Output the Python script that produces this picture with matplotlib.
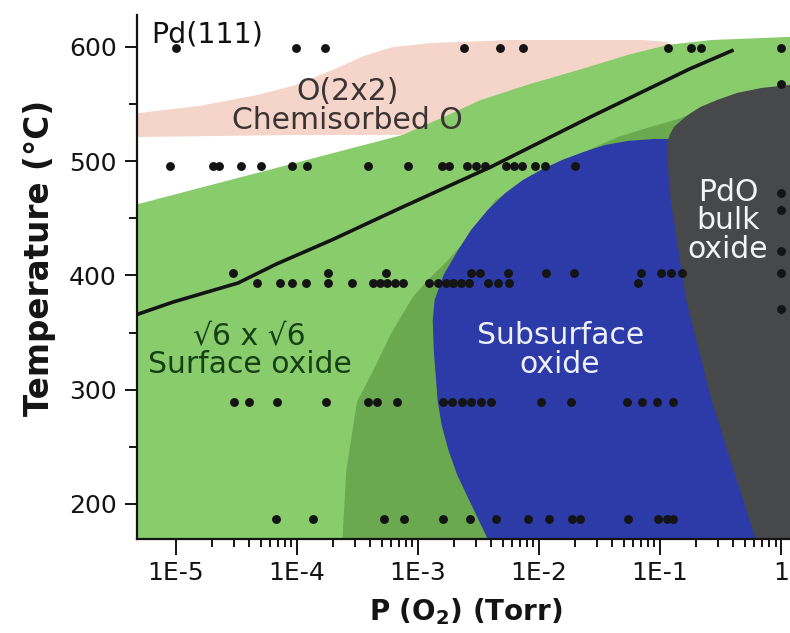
import numpy as np
import matplotlib
matplotlib.use("Agg")
import matplotlib.pyplot as plt
from matplotlib.ticker import FixedLocator, FixedFormatter, NullFormatter

# ---------------------------------------------------------------------------
# Measurement conditions: O2 pressure (Torr) for each temperature row (deg C)
# ---------------------------------------------------------------------------
t_row_600 = 599
p_row_600 = [1.0e-5, 9.8e-5, 1.71e-4, 2.42e-3, 4.8e-3, 7.33e-3, 0.117, 0.182, 0.219, 1.0]

t_row_496 = 496
p_row_496 = [9.0e-6, 2.02e-5, 2.26e-5, 3.44e-5, 5.02e-5, 9.1e-5, 1.22e-4, 3.87e-4,
             8.24e-4, 1.57e-3, 1.82e-3, 2.55e-3, 3.01e-3, 3.56e-3, 5.37e-3, 6.24e-3,
             7.18e-3, 9.23e-3, 1.12e-2, 2.00e-2]

t_row_402 = 402
p_row_402 = [2.94e-5, 1.80e-4, 5.44e-4, 2.74e-3, 3.24e-3, 5.52e-3, 1.15e-2, 1.96e-2,
             6.98e-2, 0.101, 0.124, 0.151, 1.0]

t_row_393 = 393
p_row_393 = [4.63e-5, 7.24e-5, 9.12e-5, 1.18e-4, 1.81e-4, 2.86e-4, 4.21e-4, 4.88e-4,
             5.55e-4, 6.43e-4, 7.59e-4, 1.23e-3, 1.45e-3, 1.69e-3, 1.96e-3, 2.28e-3,
             2.64e-3, 3.77e-3, 4.58e-3, 5.62e-3, 6.61e-2]

t_row_289 = 289
p_row_289 = [3.03e-5, 4.05e-5, 6.89e-5, 1.73e-4, 3.84e-4, 4.61e-4, 6.67e-4, 1.60e-3,
             1.92e-3, 2.32e-3, 2.74e-3, 3.30e-3, 3.98e-3, 1.03e-2, 1.85e-2, 5.38e-2,
             7.11e-2, 9.40e-2, 0.128]

t_row_187 = 187
p_row_187 = [6.71e-5, 1.35e-4, 5.22e-4, 7.69e-4, 1.62e-3, 2.70e-3, 4.38e-3, 8.15e-3,
             1.22e-2, 1.86e-2, 2.20e-2, 5.46e-2, 9.7e-2, 0.115, 0.128]

# extra runs at 1 Torr
p_one_torr = 1.0
t_one_torr = [568, 472, 457, 421, 371]

# ---------------------------------------------------------------------------
# Phase boundaries: log10(P / Torr) and temperature (deg C)
# ---------------------------------------------------------------------------
chem_log_p = [-5.5, -5.309, -4.806, -4.327, -4.010, -3.688, -3.448, -3.208, -2.886,
              -2.238, -1.133, -0.939,
              -0.939, -3.128, -4.010, -5.309, -5.5]
chem_t = [539.4, 542.2, 548.4, 558.0, 566.7, 580.7, 592.1, 600.0, 603.5,
          606.1, 606.1, 604.4,
          588.6, 523.0, 523.0, 521.2, 521.0]

surface_log_p = [-5.5, -5.309, -3.128, -2.805, -2.481, -2.075, -1.672, -1.268, -0.939,
                 -0.575, 0.064, 0.3, 0.3, -5.5]
surface_t = [457.3, 462.6, 523.0, 537.9, 553.6, 567.6, 579.9, 593.0, 601.8,
             606.1, 608.8, 609.5, 140, 140]

metastable_log_p = [-3.63, -3.624, -3.592, -3.504, -3.368, -3.224, -3.048, -2.919,
                    -2.765, -2.603, -2.359, -1.994, -1.672, -1.591, -1.349, -1.107,
                    -0.848, -0.575, -0.210, 0.3, 0.3]
metastable_t = [140, 169.3, 229.7, 289.3, 317.3, 348.8, 380.3, 396.1, 411.8, 431.1,
                466.1, 490.6, 504.6, 509.8, 521.2, 529.1, 537.0, 549.2, 561.5, 569.0, 140]

subsurface_log_p = [-2.38, -2.424, -2.578, -2.676, -2.749, -2.805, -2.838, -2.870,
                    -2.878, -2.862, -2.789, -2.668, -2.562, -2.424, -2.278, -2.133,
                    -1.970, -1.809, -1.632, -1.454, -1.268, -1.051, -0.848, 0.3, 0.3]
subsurface_t = [140, 169.3, 203.5, 225.4, 247.3, 269.1, 291.0, 334.8, 361.0, 378.6,
                400.4, 422.3, 439.8, 457.3, 472.2, 483.6, 493.2, 501.1, 508.1, 514.2,
                517.7, 519.5, 519.5, 519.5, 140]

bulk_log_p = [-0.155, -0.210, -0.392, -0.575, -0.784, -0.912, -0.939, -0.939, -0.921,
              -0.884, -0.820, -0.757, -0.666, -0.529, -0.365, -0.164, 0.064, 0.3, 0.3]
bulk_t = [140, 169.3, 229.7, 291.0, 378.6, 466.1, 501.1, 516.0, 523.0,
          530.0, 536.1, 541.4, 547.5, 553.6, 559.7, 564.1, 566.7, 567.5, 140]

# surface-oxide decomposition line
line_log_p = [-5.35, -5.022, -4.487, -4.168, -3.712, -3.128, -2.400, -1.591, -0.757, -0.392]
line_t = [364.8, 376.8, 393.4, 410.1, 431.1, 459.9, 494.9, 537.9, 580.7, 597.4]

# axis ticks
x_major = [1e-5, 1e-4, 1e-3, 1e-2, 1e-1, 1]
x_labels = ["1E-5", "1E-4", "1E-3", "1E-2", "1E-1", "1"]
y_major = [200, 300, 400, 500, 600]
y_minor = [250, 350, 450, 550]

# colours
c_chem = "#f5d5c9"
c_surface = "#89cc6c"
c_meta = "#6aa94f"
c_sub = "#2c3ba7"
c_bulk = "#46484a"
c_ink = "#141414"

plt.rcParams["font.family"] = ["DejaVu Sans"]

fig = plt.figure(figsize=(7.9, 6.33), dpi=100)
ax = fig.add_axes([0.1734, 0.1485, 0.8266, 0.8278])
ax.set_xscale("log")
ax.set_xlim(10 ** -5.322, 10 ** 0.074)
ax.set_ylim(169.3, 628)


def fill_region(log_p, t, colour, z):
    ax.fill(10 ** np.asarray(log_p), t, color=colour, lw=0, zorder=z)


fill_region(chem_log_p, chem_t, c_chem, 1.0)
fill_region(surface_log_p, surface_t, c_surface, 1.1)
fill_region(metastable_log_p, metastable_t, c_meta, 1.2)
fill_region(subsurface_log_p, subsurface_t, c_sub, 1.3)
fill_region(bulk_log_p, bulk_t, c_bulk, 1.4)

ax.plot(10 ** np.asarray(line_log_p), line_t, color=c_ink, lw=2.6,
        solid_capstyle="butt", solid_joinstyle="round", zorder=3)

rows = [(p_row_600, t_row_600), (p_row_496, t_row_496), (p_row_402, t_row_402),
        (p_row_393, t_row_393), (p_row_289, t_row_289), (p_row_187, t_row_187)]
for p_vals, t_val in rows:
    ax.plot(p_vals, [t_val] * len(p_vals), "o", color=c_ink, ms=6.4, mew=0, zorder=4)
ax.plot([p_one_torr] * len(t_one_torr), t_one_torr, "o", color=c_ink, ms=6.4,
        mew=0, zorder=4)

# region labels
ax.text(10 ** -5.205, 610.5, "Pd(111)", fontsize=20.5, color="#111111",
        ha="left", va="center", zorder=5)
ax.text(10 ** -3.584, 548.4, "O(2x2)\nChemisorbed O", fontsize=21.5,
        color="#3a3434", ha="center", va="center", linespacing=0.98, zorder=5)
ax.text(10 ** -4.391, 334.8, "\u221a6 x \u221a6\nSurface oxide", fontsize=21.5,
        color="#173f15", ha="center", va="center", linespacing=0.98, zorder=5)
ax.text(10 ** -1.825, 334.8, "Subsurface\noxide", fontsize=21.5,
        color="#eef0fb", ha="center", va="center", linespacing=0.98, zorder=5)
ax.text(10 ** -0.438, 447.7, "PdO\nbulk\noxide", fontsize=21.5,
        color="#f4f4f4", ha="center", va="center", linespacing=0.98, zorder=5)

# axes styling
for side in ("top", "right"):
    ax.spines[side].set_visible(False)
for side in ("left", "bottom"):
    ax.spines[side].set_linewidth(1.6)
    ax.spines[side].set_color(c_ink)
    ax.spines[side].set_zorder(6)

ax.xaxis.set_major_locator(FixedLocator(x_major))
ax.xaxis.set_major_formatter(FixedFormatter(x_labels))
x_minor = [m * 10.0 ** e for e in range(-5, 0) for m in range(2, 10)]
ax.xaxis.set_minor_locator(FixedLocator(x_minor))
ax.xaxis.set_minor_formatter(NullFormatter())
ax.yaxis.set_major_locator(FixedLocator(y_major))
ax.yaxis.set_minor_locator(FixedLocator(y_minor))

ax.tick_params(axis="x", which="major", direction="out", length=11.5, width=1.4,
               pad=4, labelsize=18, colors=c_ink)
ax.tick_params(axis="x", which="minor", direction="out", length=5.8, width=1.4,
               colors=c_ink)
ax.tick_params(axis="y", which="major", direction="out", length=8.6, width=1.4,
               pad=6, labelsize=18, colors=c_ink)
ax.tick_params(axis="y", which="minor", direction="out", length=5.8, width=1.4,
               colors=c_ink)

ax.set_xlabel(r"P (O$_\mathbf{2}$) (Torr)", fontsize=20, fontweight="bold",
              color=c_ink, va="center")
ax.xaxis.set_label_coords(0.504, -0.139)
ax.set_ylabel("Temperature (\u00b0C)", fontsize=23.5, fontweight="bold",
              color=c_ink, va="center")
ax.yaxis.set_label_coords(-0.150, 0.536)

fig.savefig("out.png", dpi=100, facecolor="white")
